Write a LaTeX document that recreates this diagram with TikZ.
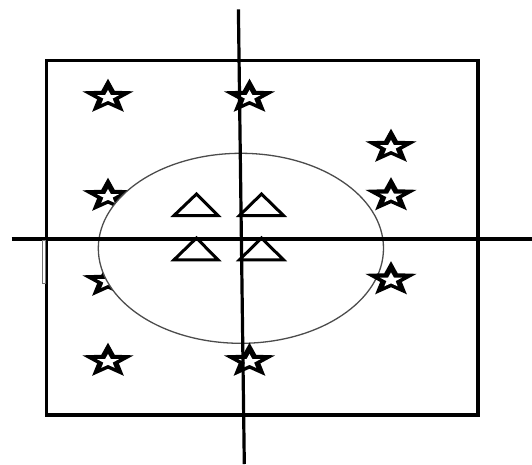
\documentclass[tikz,border=0pt]{standalone}
\begin{document}
\begin{tikzpicture}[x=1pt,y=-1pt,
  frame/.style={line width=3.4pt},
  axis/.style={line width=3.2pt},
  triline/.style={line width=3pt,line join=miter},
  ovalline/.style={line width=1.3pt,draw=black!70,fill=white},
  marker/.style={line width=0.8pt,draw=black!55,fill=white}]
\useasboundingbox (0,0) rectangle (532,464);
\newcommand\mystarpath{(-90:27 and 18.3) -- (-54:11.4 and 7.7) -- (-18:27 and 18.3) -- (18:11.4 and 7.7)
  -- (54:27 and 18.3) -- (90:11.4 and 7.7) -- (126:27 and 18.3) -- (162:11.4 and 7.7)
  -- (198:27 and 18.3) -- (234:11.4 and 7.7) -- cycle}
\newcommand\mystar[2]{%
  \fill[black,shift={(#1,#2)}] \mystarpath;
  \fill[white,shift={(#1,#2+0.6)},scale=0.42] \mystarpath;}
% frame
\draw[frame] (46.5,60.3) rectangle (478,415);
% stars partly hidden by the oval
\mystar{108}{196}
\mystar{108}{281}
% oval
\draw[ovalline] (240.9,248.3) ellipse [x radius=142.6, y radius=95];
% other stars
\mystar{108}{97}
\mystar{249.5}{97}
\mystar{391}{147}
\mystar{391}{195.5}
\mystar{391}{279.5}
\mystar{108}{361}
\mystar{249.5}{361}
% axes
\coordinate (vt) at (238.4,9.3);
\coordinate (vb) at (244.3,464);
\coordinate (hl) at (11.5,239);
\coordinate (hr) at (532,239);
\draw[axis] (vt) -- (vb);
\draw[axis] (hl) -- (hr);
% triangles
\draw[triline] (174,215.5) -- (196.5,194) -- (218,215.5) -- cycle;
\draw[triline] (239.5,215.5) -- (261.5,194) -- (283.5,215.5) -- cycle;
\draw[triline] (174,259.8) -- (196.5,238) -- (218,259.8) -- cycle;
\draw[triline] (239.5,259.8) -- (261.5,238) -- (283.5,259.8) -- cycle;
% small marker at left
\draw[marker] (42.8,240) rectangle (45.6,283.3);
\end{tikzpicture}
\end{document}
